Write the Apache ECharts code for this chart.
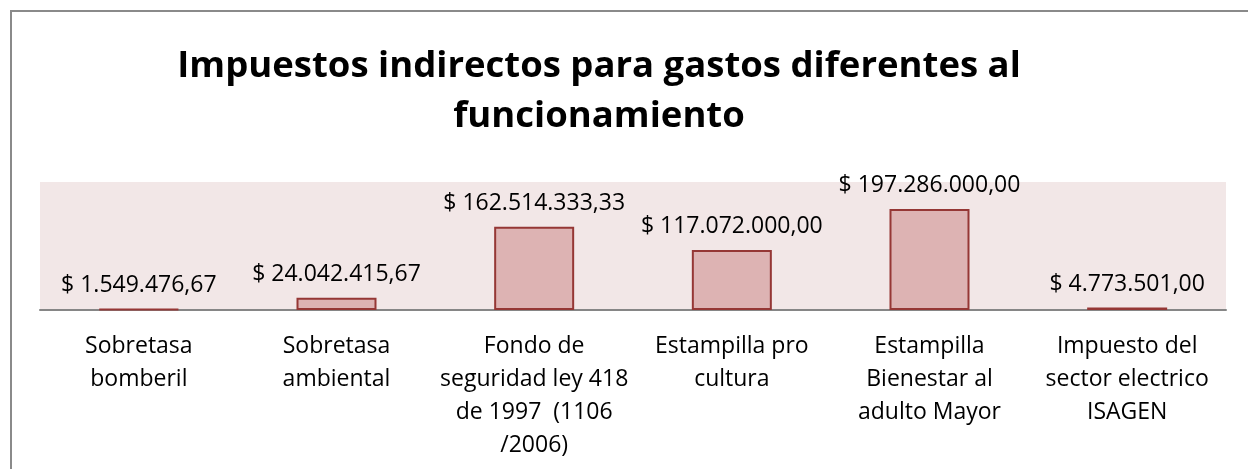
<!DOCTYPE html>
<html>
<head>
<meta charset="utf-8">
<script src="https://cdn.jsdelivr.net/npm/echarts@6/dist/echarts.min.js"></script>
<style>
  html, body { margin: 0; padding: 0; background: #ffffff; }
  #chart { width: 1248px; height: 469px; }
  #frame { position: absolute; left: 10px; top: 10px; width: 1300px; height: 600px;
           border-top: 2px solid #8a8a8a; border-left: 2px solid #8a8a8a; pointer-events: none; }
</style>
</head>
<body>
<div id="chart"></div>
<div id="frame"></div>
<script>
const titleText = 'Impuestos indirectos para gastos diferentes al\nfuncionamiento';
const categories = [
  'Sobretasa\nbomberil',
  'Sobretasa\nambiental',
  'Fondo de\nseguridad ley 418\nde 1997  (1106\n/2006)',
  'Estampilla pro\ncultura',
  'Estampilla\nBienestar al\nadulto Mayor',
  'Impuesto del\nsector electrico\nISAGEN'
];
const values = [1549476.67, 24042415.67, 162514333.33, 117072000.00, 197286000.00, 4773501.00];

function fmtPeso(v) {
  const parts = v.toFixed(2).split('.');
  const intPart = parts[0].replace(/\B(?=(\d{3})+(?!\d))/g, '.');
  return '$ ' + intPart + ',' + parts[1];
}

const chart = echarts.init(document.getElementById('chart'));
chart.setOption({
  animation: false,
  backgroundColor: '#ffffff',
  title: {
    text: titleText,
    left: 594,
    top: 37,
    textAlign: 'center',
    textStyle: { fontFamily: 'Open Sans', fontWeight: 'bold', fontSize: 36.5, lineHeight: 50, color: '#000000' }
  },
  grid: { left: 40, right: 22, top: 182, bottom: 159, show: true, backgroundColor: '#F2E7E7', borderWidth: 0 },
  xAxis: {
    type: 'category',
    data: categories,
    axisLine: { lineStyle: { color: '#868686', width: 2 } },
    axisTick: { show: false },
    axisLabel: { interval: 0, margin: 20, fontFamily: 'Open Sans', fontSize: 23, lineHeight: 33, color: '#000000' }
  },
  yAxis: {
    type: 'value',
    min: 0,
    max: 250000000,
    show: false,
    splitLine: { show: false }
  },
  series: [{
    type: 'bar',
    data: values,
    barWidth: 80,
    itemStyle: { color: '#DDB3B3', borderColor: '#953735', borderWidth: 2 },
    label: {
      show: true,
      position: 'top',
      distance: 12,
      formatter: p => fmtPeso(p.value),
      fontFamily: 'Open Sans',
      fontSize: 23,
      color: '#000000'
    }
  }]
});
</script>
</body>
</html>
